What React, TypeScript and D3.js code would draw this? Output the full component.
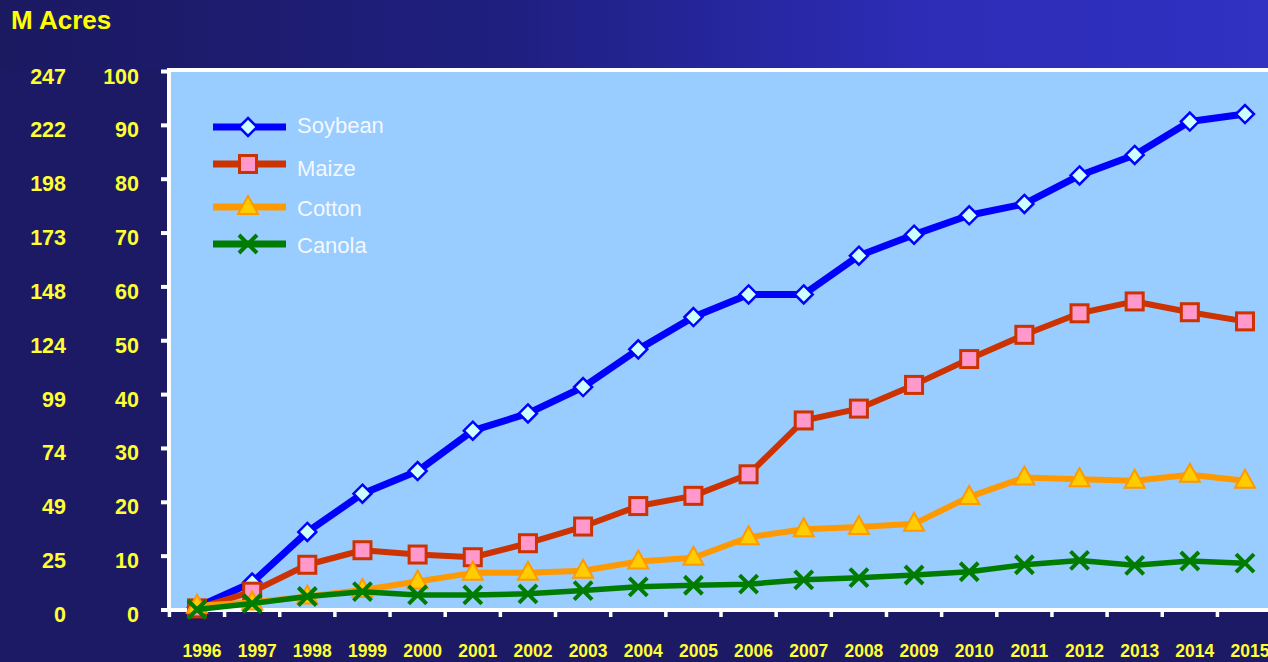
import React from "react";
import * as d3 from "d3";

// Global biotech crop area by crop, million hectares
const years = [1996, 1997, 1998, 1999, 2000, 2001, 2002, 2003, 2004, 2005, 2006, 2007, 2008, 2009, 2010, 2011, 2012, 2013, 2014, 2015];
const soybean = [0.5, 5.1, 14.5, 21.6, 25.8, 33.3, 36.5, 41.4, 48.4, 54.4, 58.6, 58.6, 65.8, 69.7, 73.3, 75.4, 80.7, 84.5, 90.7, 92.1];
const maize = [0.3, 3.4, 8.4, 11.1, 10.3, 9.8, 12.4, 15.5, 19.3, 21.2, 25.2, 35.2, 37.4, 41.8, 46.6, 51.1, 55.1, 57.3, 55.3, 53.6];
const cotton = [0.8, 1.4, 2.5, 3.7, 5.3, 6.9, 6.9, 7.3, 9.0, 9.7, 13.5, 15.0, 15.4, 16.0, 21.0, 24.6, 24.3, 24.0, 25.1, 24.0];
const canola = [0.1, 1.2, 2.5, 3.4, 2.8, 2.8, 3.0, 3.6, 4.3, 4.6, 4.8, 5.6, 6.0, 6.5, 7.1, 8.4, 9.2, 8.3, 9.1, 8.7];
const hectareTicks = [0, 10, 20, 30, 40, 50, 60, 70, 80, 90, 100];
const acreTicks = ["0", "25", "49", "74", "99", "124", "148", "173", "198", "222", "247"];
const seriesNames = ["Soybean", "Maize", "Cotton", "Canola"];

const W = 1268;
const H = 662;
const plotLeft = 169;
const plotTop = 70;
const plotBottom = 610;

const x = d3.scalePoint<number>().domain(years).range([197, 1245]);
const y = d3.scaleLinear().domain([0, 100]).range([plotBottom, 71.5]);
const step = x.step();

type Kind = "diamond" | "square" | "triangle" | "x";

const seriesStyle: { values: number[]; color: string; width: number; kind: Kind }[] = [
  { values: soybean, color: "#0000ff", width: 7, kind: "diamond" },
  { values: maize, color: "#cc3300", width: 6, kind: "square" },
  { values: cotton, color: "#ff9900", width: 6, kind: "triangle" },
  { values: canola, color: "#007c00", width: 5.5, kind: "x" },
];

function Marker({ kind, cx, cy }: { kind: Kind; cx: number; cy: number }) {
  if (kind === "diamond") {
    const r = 9;
    return (
      <path
        d={`M${cx},${cy - r}L${cx + r},${cy}L${cx},${cy + r}L${cx - r},${cy}Z`}
        fill="#ccffff"
        stroke="#0000ff"
        strokeWidth={2.5}
        strokeLinejoin="miter"
      />
    );
  }
  if (kind === "square") {
    const s = 8.5;
    return <rect x={cx - s} y={cy - s} width={2 * s} height={2 * s} fill="#ff99cc" stroke="#cc3300" strokeWidth={3} />;
  }
  if (kind === "triangle") {
    return (
      <path
        d={`M${cx},${cy - 11}L${cx + 10},${cy + 7}L${cx - 10},${cy + 7}Z`}
        fill="#ffcc00"
        stroke="#ff9900"
        strokeWidth={2}
        strokeLinejoin="miter"
      />
    );
  }
  const a = 9;
  return (
    <path
      d={`M${cx - a},${cy - a}L${cx + a},${cy + a}M${cx + a},${cy - a}L${cx - a},${cy + a}`}
      stroke="#007c00"
      strokeWidth={4}
      fill="none"
    />
  );
}

const legendLineY = [127, 164, 207, 244];
const legendTextY = [133, 176, 216, 253];

export default function App() {
  const line = d3
    .line<number>()
    .x((_, i) => x(years[i]) as number)
    .y((d) => y(d));

  const boundaries = [x(years[0])! - step / 2, ...years.map((yr) => (x(yr) as number) + step / 2)];

  return (
    <div style={{ position: "fixed", left: 0, top: 0, width: W, height: H }}>
      <svg width={W} height={H} style={{ display: "block" }} fontFamily="'Liberation Sans', Arial, sans-serif">
        <defs>
          <linearGradient id="band" x1="0" y1="0" x2="1" y2="0">
            <stop offset="0" stopColor="#1b1960" />
            <stop offset="0.4" stopColor="#1f1f80" />
            <stop offset="0.72" stopColor="#2c2cb6" />
            <stop offset="1" stopColor="#3131c2" />
          </linearGradient>
        </defs>
        <rect x={0} y={0} width={W} height={H} fill="#1c1a64" />
        <rect x={0} y={0} width={W} height={plotTop} fill="url(#band)" />

        <text x={11} y={29} fontSize={26} fontWeight="bold" fill="#ffff00">
          M Acres
        </text>

        {/* plot area */}
        <rect x={plotLeft} y={plotTop} width={W - plotLeft} height={plotBottom - plotTop} fill="#99ccff" />
        <line x1={plotLeft - 2} x2={W} y1={plotTop} y2={plotTop} stroke="#ffffff" strokeWidth={4} />
        <line x1={plotLeft} x2={plotLeft} y1={plotTop - 2} y2={plotBottom + 2} stroke="#ffffff" strokeWidth={4} />
        <line x1={161} x2={W} y1={plotBottom} y2={plotBottom} stroke="#ffffff" strokeWidth={4} />

        {/* y ticks and both label columns */}
        {hectareTicks.map((t, i) => (
          <g key={t}>
            <line x1={161} x2={168} y1={y(t)} y2={y(t)} stroke="#ffffff" strokeWidth={4} />
            <text x={139} y={y(t) + 12} fontSize={21.5} fontWeight="bold" fill="#ffff33" textAnchor="end">
              {t}
            </text>
            <text x={66} y={y(t) + 12} fontSize={21.5} fontWeight="bold" fill="#ffff33" textAnchor="end">
              {acreTicks[i]}
            </text>
          </g>
        ))}

        {/* x ticks and year labels */}
        {boundaries.map((bx, i) => (
          <line key={i} x1={bx} x2={bx} y1={plotBottom} y2={plotBottom + 7} stroke="#ffffff" strokeWidth={3.5} />
        ))}
        {years.map((yr) => (
          <text key={yr} x={(x(yr) as number) + 5} y={657} fontSize={17.5} fontWeight="bold" fill="#ffff33" textAnchor="middle">
            {yr}
          </text>
        ))}

        {/* series */}
        {seriesStyle.map((s) => (
          <g key={s.kind}>
            <path d={line(s.values) ?? ""} fill="none" stroke={s.color} strokeWidth={s.width} strokeLinejoin="round" />
            {s.values.map((v, i) => (
              <Marker key={i} kind={s.kind} cx={x(years[i]) as number} cy={y(v)} />
            ))}
          </g>
        ))}

        {/* legend */}
        {seriesStyle.map((s, i) => (
          <g key={seriesNames[i]}>
            <line x1={213} x2={286} y1={legendLineY[i]} y2={legendLineY[i]} stroke={s.color} strokeWidth={7} />
            <Marker kind={s.kind} cx={248} cy={legendLineY[i]} />
            <text x={297} y={legendTextY[i]} fontSize={22} fill="#f4f8ff">
              {seriesNames[i]}
            </text>
          </g>
        ))}
      </svg>
    </div>
  );
}
